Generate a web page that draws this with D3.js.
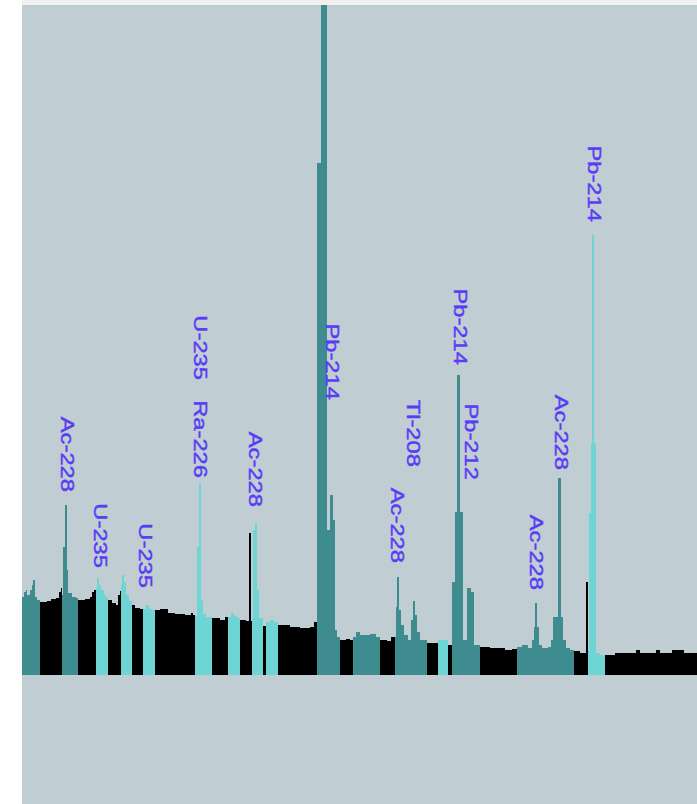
<!DOCTYPE html>
<html>
<head>
<meta charset="utf-8">
<script src="https://cdn.jsdelivr.net/npm/d3@7/dist/d3.min.js"></script>
<style>
  html, body { margin: 0; padding: 0; background: #ffffff; }
  svg { display: block; }
</style>
</head>
<body>
<div id="chart"></div>
<script>
// ── Spectrum data (channel = lower edge of a step, counts = height of step) ──
var stepChannels = [
    0, 2, 4, 5, 8, 10, 11, 13, 15,
    18, 25, 29, 34, 37, 39,
    40, 41, 43, 45, 46, 50, 54,
    56, 63, 68, 70, 72,
    74, 75, 77, 79, 82, 84,
    86, 90, 94, 96, 98,
    99, 100, 102, 104, 107,
    110, 113, 118,
    121, 124, 127, 130,
    133, 138, 146, 153, 163, 169, 171,
    173, 175, 177, 179, 181, 184,
    190, 198, 203,
    206, 209, 212, 215,
    218, 224, 227, 229,
    230, 231, 233, 235, 237,
    241,
    244, 248, 252,
    256, 268, 278, 288, 292,
    295, 299, 305, 308, 311, 313, 315,
    318, 324, 328,
    331, 334, 338, 348, 354,
    358, 365, 369,
    373, 374, 375, 377, 379, 382, 386, 389, 391, 393, 395, 398,
    405,
    416,
    426,
    430, 433, 435, 438, 441, 445, 449, 452,
    458, 468, 483, 490,
    495, 500, 506, 510, 512, 513, 515, 517, 520, 526, 529, 531, 536, 539, 541, 544, 548,
    552, 558, 564,
    566, 567, 569, 570, 572, 574, 578,
    583, 593, 614, 618, 634, 638, 650, 662
];
var stepCounts = [
    78, 83, 85, 80, 85, 90, 95, 78, 75,
    73, 74, 76, 77, 83, 87,
    80, 128, 170, 105, 82, 78, 77,
    75, 76, 78, 83, 85,
    87, 97, 90, 85, 80, 78,
    75, 72, 70, 80, 84,
    90, 100, 93, 80, 74,
    70, 67, 66,
    66, 70, 66, 65,
    65, 66, 62, 61, 60, 62, 60,
    59, 128, 192, 75, 61, 58,
    57, 55, 58,
    58, 62, 59, 57,
    55, 54, 142, 54,
    57, 145, 152, 85, 57,
    49,
    53, 55, 53,
    50, 48, 47, 48, 53,
    512, 760, 145, 180, 155, 45, 38,
    35, 36, 35,
    38, 43, 40, 41, 38,
    35, 34, 38,
    38, 68, 98, 65, 50, 40, 35, 55, 74, 60, 43, 35,
    32,
    35,
    30,
    93, 163, 300, 163, 35, 87, 83, 30,
    28, 27, 25, 26,
    28, 30, 27, 35, 48, 72, 48, 30, 27, 28, 35, 58, 197, 58, 35, 27, 25,
    24, 22, 93,
    25, 162, 232, 440, 232, 22, 20,
    20, 22, 25, 22, 25, 22, 25, 22
];
var channelMax = 675;
var countMax = 670;

// Regions of interest: [first channel, last channel)
var tealRegions = [[0, 18], [40, 56], [295, 318], [331, 358], [373, 405], [430, 458], [495, 552]];
var cyanRegions = [[74, 86], [99, 110], [121, 133], [173, 190], [206, 218], [230, 241],
                   [244, 256], [416, 426], [566, 583]];

// Peak labels: nuclide, channel of label centre, count level where the label ends
var labelNames    = ['Ac-228', 'U-235', 'U-235', 'U-235', 'Ra-226', 'Ac-228', 'Pb-214',
                     'Tl-208', 'Ac-228', 'Pb-214', 'Pb-212', 'Ac-228', 'Ac-228', 'Pb-214'];
var labelChannels = [46, 79, 124, 179, 179, 234, 311, 392, 376, 439, 450, 515, 540, 573];
var labelEnds     = [183, 107, 87, 295, 197, 168, 275, 208, 112, 310, 195, 85, 205, 453];

// ── Drawing ─────────────────────────────────────────────────────────────────
var W = 697, H = 804;
var plot = { left: 22, top: 5, base: 675 };

var svg = d3.select('#chart').append('svg')
    .attr('width', W).attr('height', H);

svg.append('rect')
    .attr('x', plot.left).attr('y', 0)
    .attr('width', W - plot.left).attr('height', plot.top)
    .attr('fill', '#f0f0f0');
svg.append('rect')
    .attr('x', plot.left).attr('y', plot.top)
    .attr('width', W - plot.left).attr('height', H - plot.top)
    .attr('fill', '#c0ced3');

var xScale = d3.scaleLinear().domain([0, channelMax]).range([plot.left, W]);
var yScale = d3.scaleLinear().domain([0, countMax]).range([plot.base, plot.top]);

svg.append('clipPath').attr('id', 'plotClip')
    .append('rect')
    .attr('x', plot.left).attr('y', plot.top)
    .attr('width', W - plot.left).attr('height', plot.base - plot.top);

function inRegions(regions, ch) {
    return regions.some(function (r) { return ch >= r[0] && ch < r[1]; });
}

var bins = stepChannels.map(function (ch, i) {
    var next = i + 1 < stepChannels.length ? stepChannels[i + 1] : channelMax;
    var mid = (ch + next) / 2;
    var color = '#000000';
    if (inRegions(tealRegions, mid)) color = '#3f8c90';
    else if (inRegions(cyanRegions, mid)) color = '#6ed4d4';
    return { x0: ch, x1: next, count: stepCounts[i], color: color };
});

svg.append('g')
    .attr('clip-path', 'url(#plotClip)')
    .selectAll('rect')
    .data(bins)
    .enter().append('rect')
    .attr('x', function (d) { return xScale(d.x0); })
    .attr('width', function (d) { return xScale(d.x1) - xScale(d.x0) + 0.3; })
    .attr('y', function (d) { return yScale(Math.min(d.count, countMax)); })
    .attr('height', function (d) { return yScale(0) - yScale(Math.min(d.count, countMax)); })
    .attr('fill', function (d) { return d.color; })
    .attr('shape-rendering', 'crispEdges');

// Rotated nuclide labels, reading downward
var fontSize = 19, stretch = 1.25, capHalf = 7;
var labels = labelNames.map(function (name, i) {
    return { name: name, ch: labelChannels[i], end: labelEnds[i] };
});

svg.append('g')
    .selectAll('text')
    .data(labels)
    .enter().append('text')
    .attr('transform', function (d) {
        return 'translate(' + (xScale(d.ch) - capHalf) + ',' + yScale(d.end) + ') rotate(90) scale(' + stretch + ',1)';
    })
    .attr('text-anchor', 'end')
    .attr('font-family', '"Liberation Sans", Arial, sans-serif')
    .attr('font-size', fontSize)
    .attr('fill', '#5a3cf5')
    .attr('stroke', '#5a3cf5')
    .attr('stroke-width', 0.45)
    .text(function (d) { return d.name; });
</script>
</body>
</html>
